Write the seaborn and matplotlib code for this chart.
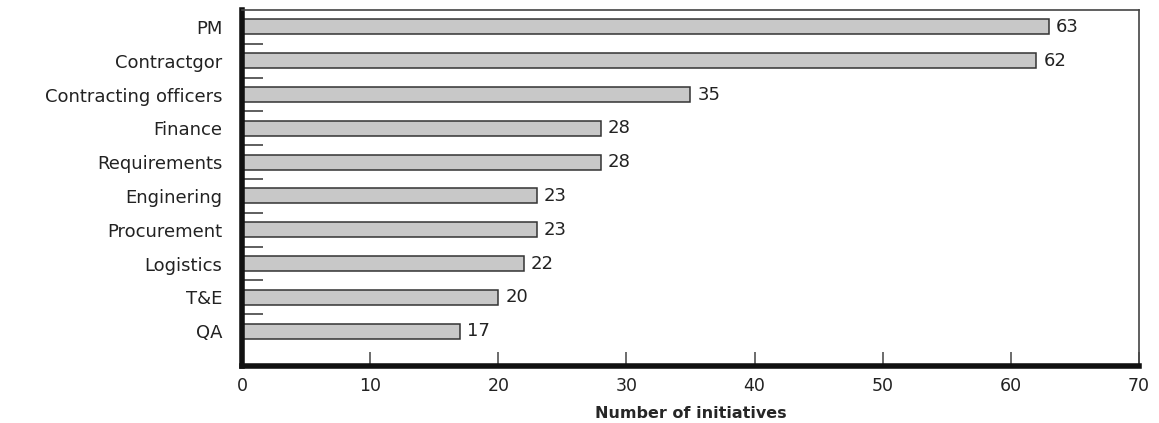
import numpy as np
import pandas as pd
import matplotlib
matplotlib.use("Agg")
import matplotlib.pyplot as plt
import seaborn as sns

categories = ["PM", "Contractgor", "Contracting officers", "Finance", "Requirements",
              "Enginering", "Procurement", "Logistics", "T&E", "QA"]
counts = [63, 62, 35, 28, 28, 23, 23, 22, 20, 17]
x_ticks = [0, 10, 20, 30, 40, 50, 60, 70]

sns.set_style("white")
plt.rcParams["font.family"] = ["DejaVu Sans"]

df = pd.DataFrame({"group": categories, "count": counts})

fig = plt.figure(figsize=(11.59, 4.23), dpi=100)
ax = fig.add_axes([0.2088, 0.1348, 0.7739, 0.8416])

sns.barplot(data=df, y="group", x="count", orient="h", order=categories,
            color="#c8c8c8", edgecolor="#333333", linewidth=1.1,
            width=0.44, saturation=1, ax=ax)

ax.bar_label(ax.containers[0], labels=[str(v) for v in counts],
             padding=5, fontsize=13, color="#222222")

ax.set_xlim(0, 70)
ax.set_ylim(10.03, -0.5)
ax.set_xticks(x_ticks)
ax.set_xticklabels([str(t) for t in x_ticks], fontsize=12.5, color="#222222")
ax.tick_params(axis="x", bottom=True, direction="in", length=10, width=1.1,
               color="#444444", pad=8)

# labels on categories, tick marks between bars
ax.tick_params(axis="y", which="major", left=True, length=0, pad=14,
               labelsize=13, labelcolor="#222222")
ax.set_yticks(np.arange(len(categories) - 1) + 0.5, minor=True)
ax.tick_params(axis="y", which="minor", left=True, direction="in", length=15,
               width=1.1, color="#333333")

for side in ["top", "right"]:
    ax.spines[side].set_linewidth(1.2)
    ax.spines[side].set_color("#444444")
for side in ["left", "bottom"]:
    ax.spines[side].set_linewidth(4)
    ax.spines[side].set_color("#111111")

ax.set_ylabel("")
ax.set_xlabel("Number of initiatives", fontsize=11.5, fontweight="bold", labelpad=8)

fig.savefig("out.png", dpi=100)
